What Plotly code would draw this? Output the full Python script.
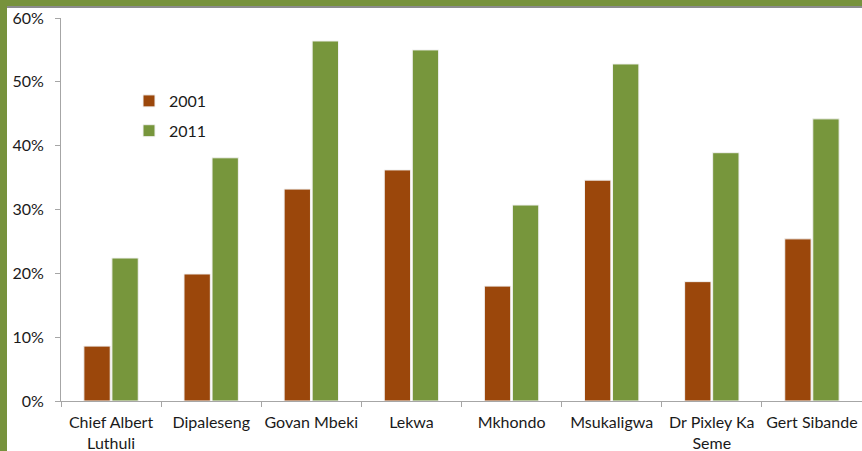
import plotly.graph_objects as go

categories = ["Chief Albert<br>Luthuli", "Dipaleseng", "Govan Mbeki", "Lekwa", "Mkhondo",
              "Msukaligwa", "Dr Pixley Ka<br>Seme", "Gert Sibande"]
values_2001 = [0.086, 0.199, 0.332, 0.362, 0.180, 0.346, 0.187, 0.254]
values_2011 = [0.224, 0.381, 0.564, 0.550, 0.307, 0.528, 0.389, 0.442]
tick_vals = [0, 0.1, 0.2, 0.3, 0.4, 0.5, 0.6]
tick_text = ["0%", "10%", "20%", "30%", "40%", "50%", "60%"]

W, H = 862, 451
L, R, T, B = 61, 0, 18, 50
pw, ph = W - L - R, H - T - B

def px(x):
    return (x - L) / pw

def py(y):
    return (H - B - y) / ph

fig = go.Figure()
fig.add_trace(go.Bar(x=categories, y=values_2001, name="2001", legendgroup="a",
                     marker=dict(color="#9B470B", line=dict(color="#F2F2F2", width=1))))
fig.add_trace(go.Bar(x=categories, y=values_2011, name="2011", legendgroup="b",
                     marker=dict(color="#77963C", line=dict(color="#F2F2F2", width=1))))

font = "Lato, Open Sans, sans-serif"
fs = 16
fig.update_layout(
    width=W, height=H,
    margin=dict(l=L, r=R, t=T, b=B, autoexpand=False),
    paper_bgcolor="white", plot_bgcolor="white",
    barmode="group", bargap=0.44, bargroupgap=0.06,
    font=dict(family=font, size=fs, color="#1a1a1a"),
    showlegend=True,
    legend=dict(x=px(129), y=py(84), xanchor="left", yanchor="top",
                bgcolor="rgba(0,0,0,0)", font=dict(size=fs), tracegroupgap=6),
    xaxis=dict(showline=True, linecolor="#A6A6A6", linewidth=1, automargin=False,
               ticks="outside", tickson="boundaries", ticklen=5, tickcolor="#A6A6A6",
               showgrid=False, tickfont=dict(size=fs), tickangle=0, ticklabelstandoff=7),
    yaxis=dict(range=[0, 0.6], tickvals=tick_vals, ticktext=tick_text, automargin=False,
               showline=True, linecolor="#A6A6A6", linewidth=1,
               ticks="outside", ticklen=5, tickcolor="#A6A6A6",
               showgrid=False, zeroline=False, tickfont=dict(size=fs),
               ticklabelstandoff=8),
    shapes=[
        dict(type="rect", xref="paper", yref="paper", x0=px(0), x1=px(W), y0=py(0), y1=py(6),
             fillcolor="#77923C", line=dict(width=0), layer="above"),
        dict(type="rect", xref="paper", yref="paper", x0=px(7), x1=px(W), y0=py(6), y1=py(8),
             fillcolor="#8C8C8C", line=dict(width=0), layer="above"),
        dict(type="rect", xref="paper", yref="paper", x0=px(0), x1=px(7), y0=py(0), y1=py(H),
             fillcolor="#77923C", line=dict(width=0), layer="above"),
    ],
)

fig.write_html("out.html", config={"displayModeBar": False},
               post_script="document.body.style.margin='0';document.body.style.overflow='hidden';")
